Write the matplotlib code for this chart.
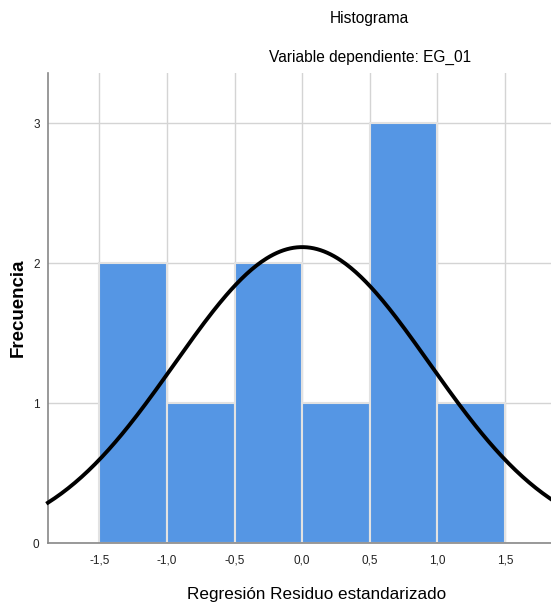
import numpy as np
import matplotlib.pyplot as plt

plt.rcParams['font.family'] = ['Liberation Sans', 'DejaVu Sans']

# histogram of standardized residuals (bin edges and counts)
bin_edges = [-1.5, -1.0, -0.5, 0.0, 0.5, 1.0, 1.5]
counts = [2, 1, 2, 1, 3, 1]
n_obs = 10
res_mean = 0.0
res_std = 0.943

x_ticks = [-1.5, -1.0, -0.5, 0.0, 0.5, 1.0, 1.5]
x_labels = ['-1,5', '-1,0', '-0,5', '0,0', '0,5', '1,0', '1,5']
y_ticks = [0, 1, 2, 3]

fig = plt.figure(figsize=(5.51, 6.07), dpi=100)
ax = fig.add_axes([0.087, 0.105, 0.913, 0.775])

ax.set_xlim(-1.88, 1.84)
ax.set_ylim(0, 3.36)

ax.set_xticks(x_ticks)
ax.set_yticks(y_ticks)
ax.grid(True, color='#d4d4d4', linewidth=1.0)
ax.set_axisbelow(True)

widths = np.diff(bin_edges)
ax.bar(bin_edges[:-1], counts, width=widths, align='edge',
       color='#5596e4', edgecolor='#e2e2e2', linewidth=1.5, zorder=2)

# normal curve scaled to counts
xs = np.linspace(-1.88, 1.84, 300)
bw = widths[0]
ys = n_obs * bw / (res_std * np.sqrt(2 * np.pi)) * np.exp(-0.5 * ((xs - res_mean) / res_std) ** 2)
ax.plot(xs, ys, color='black', linewidth=2.8, zorder=3, clip_on=False)

ax.set_xticklabels(x_labels)
ax.tick_params(axis='both', length=0, labelsize=8.5, colors='#222222')
ax.tick_params(axis='x', pad=8)
ax.tick_params(axis='y', pad=6)

for s in ['top', 'right']:
    ax.spines[s].set_visible(False)
for s in ['left', 'bottom']:
    ax.spines[s].set_color('#888888')
    ax.spines[s].set_linewidth(1.2)

fig.text(0.575, 0.020, 'Regresión Residuo estandarizado', ha='center', va='center', fontsize=12.3)
fig.text(0.033, 0.493, 'Frecuencia', rotation=90, ha='center', va='center',
         fontsize=13.5, fontweight='bold')

fig.text(0.671, 0.969, 'Histograma', ha='center', va='center', fontsize=11.2)
fig.text(0.671, 0.906, 'Variable dependiente: EG_01', ha='center', va='center', fontsize=11.2)

fig.savefig('out.png', dpi=100)
